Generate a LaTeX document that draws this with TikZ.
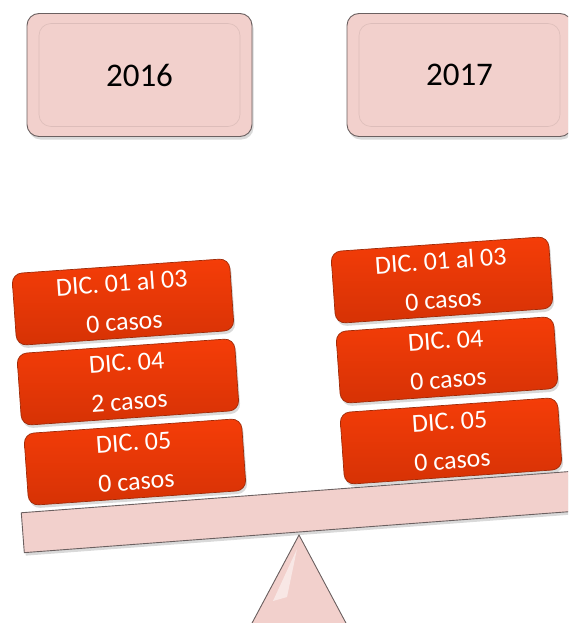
\documentclass[tikz,border=0pt]{standalone}
\usepackage{fontspec}
\setmainfont{Carlito}
\usetikzlibrary{shadows, calc}
\definecolor{bpink}{HTML}{F2D0CC}
\definecolor{bgray}{HTML}{6B6060}
\definecolor{borange}{HTML}{F53D08}
\definecolor{bdeep}{HTML}{D63205}
\definecolor{bedge}{HTML}{9E2A08}
\tikzset{
soft shadow/.style = {%
    drop shadow={opacity=0.3, shadow xshift=1.5pt, shadow yshift=-3pt}},
year/.style = {%
    rounded corners=12pt, draw=bgray, line width=0.9pt, fill=bpink,
    minimum width=225pt, minimum height=123pt, soft shadow,
    font=\fontsize{33}{40}\selectfont,
    path picture={%
        \draw[bpink!75!black, opacity=0.35, line width=0.6pt]
            ([shift={(12pt,-10pt)}]path picture bounding box.north west)
            rectangle
            ([shift={(-12pt,10pt)}]path picture bounding box.south east);
    }},
day/.style = {%
    rounded corners=10pt, draw=bedge, line width=0.7pt,
    top color=borange, bottom color=bdeep, text=white,
    minimum width=218pt, minimum height=72pt, rotate=4,
    align=center, soft shadow, font=\fontsize{26}{39}\selectfont},
beam/.style = {%
    draw=bgray, line width=0.9pt, fill=bpink, rotate=4.3,
    minimum width=552pt, minimum height=40pt, soft shadow}
}

\begin{document}
\begin{tikzpicture}[x=1pt, y=-1pt]
    \useasboundingbox (0,0) rectangle (568,623);
    \clip (0,0) rectangle (568,623);

    % Year headers
    \node[year] (y16) at (139.5,75) {2016};
    \node[year] (y17) at (459.5,75) {2017};

    % Fulcrum and beam
    \coordinate (apex) at (299,535);
    \filldraw[draw=bgray, line width=0.9pt, fill=bpink]
        (apex) -- (243,640) -- (355,640) -- cycle;
    \filldraw[draw=none, fill=white, opacity=0.5]
        ($(apex)+(-2,14)$) -- ($(apex)+(-26,66)$) -- ($(apex)+(-12,62)$) -- cycle;
    \node[beam] (bar) at (298,512) {};

    % Cases, 2016 side
    \node[day] (l1) at (123,302) {DIC. 01 al 03\\0 casos};
    \node[day] (l2) at (128,382) {DIC. 04\\2 casos};
    \node[day] (l3) at (135,462) {DIC. 05\\0 casos};

    % Cases, 2017 side
    \node[day] (r1) at (442,280) {DIC. 01 al 03\\0 casos};
    \node[day] (r2) at (447,360) {DIC. 04\\0 casos};
    \node[day] (r3) at (451,441) {DIC. 05\\0 casos};
\end{tikzpicture}
\end{document}
